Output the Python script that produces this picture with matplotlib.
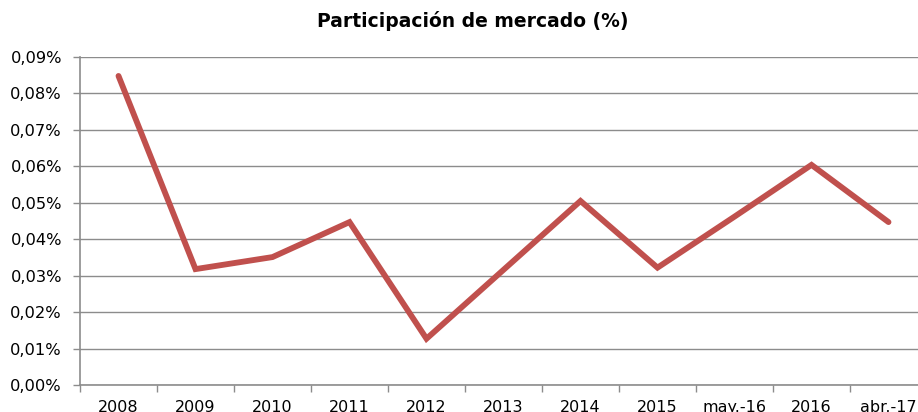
import matplotlib.pyplot as plt
import numpy as np
from matplotlib.ticker import FuncFormatter

# market share data (%)
categories = ['2008', '2009', '2010', '2011', '2012', '2013', '2014', '2015', 'may.-16', '2016', 'abr.-17']
share = [0.0848, 0.0318, 0.0351, 0.0447, 0.0127, 0.0316, 0.0505, 0.0322, 0.0462, 0.0604, 0.0447]

fig = plt.figure(figsize=(9.18, 4.12), dpi=100)
ax = fig.add_axes([80 / 918, 27 / 412, 847 / 918, 328 / 412])

x = np.arange(len(categories))
ax.plot(x, share, color='#C0504D', linewidth=4.2, solid_capstyle='round', solid_joinstyle='miter', zorder=3)

ax.set_xlim(-0.5, len(categories) - 0.5)
ax.set_ylim(0, 0.09)
ax.set_yticks(np.arange(0, 0.0901, 0.01))
ax.yaxis.set_major_formatter(FuncFormatter(lambda v, p: ('%.2f%%' % v).replace('.', ',')))
ax.grid(axis='y', color='#8c8c8c', linewidth=1)
ax.set_axisbelow(True)

ax.set_xticks(x)
ax.set_xticklabels(categories)
ax.set_xticks(np.arange(-0.5, len(categories), 1), minor=True)
ax.tick_params(axis='x', which='major', length=0, pad=11, labelsize=11.5)
ax.tick_params(axis='x', which='minor', length=5, color='#8c8c8c', width=1)
ax.tick_params(axis='y', length=5, color='#8c8c8c', width=1, labelsize=11.7, pad=8)

for s in ['top', 'right']:
    ax.spines[s].set_visible(False)
for s in ['left', 'bottom']:
    ax.spines[s].set_color('#8c8c8c')
    ax.spines[s].set_linewidth(1.2)

fig.text(0.515, 0.948, 'Participación de mercado (%)', ha='center', va='center', fontsize=13.5, fontweight='bold')

fig.savefig('out.png', dpi=100)
